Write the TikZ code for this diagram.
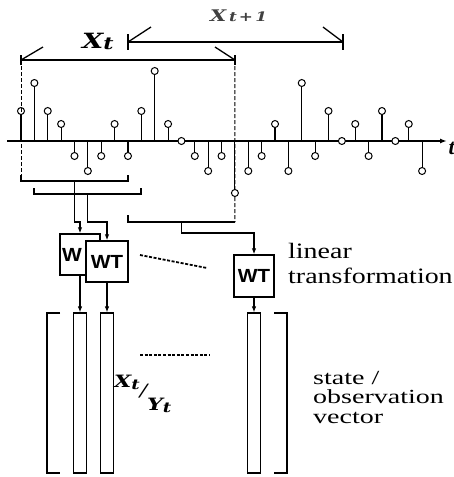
\documentclass[tikz,border=0pt]{standalone}
\usepackage{fontspec}
\setmainfont{Liberation Serif}
\usepackage{tikz}
\usetikzlibrary{arrows.meta,positioning}
\newfontfamily\labelfont[FakeStretch=1.27]{Liberation Serif}
\newfontfamily\statefont[FakeStretch=1.4]{Liberation Serif}
\newfontfamily\vecfont[FakeStretch=1.3]{DejaVu Serif}
\newfontfamily\boxfont[FakeStretch=1.1]{Liberation Sans}
\tikzset{
  sample/.style={
    circle,
    draw,
    fill=white,
    line width=1pt,
    inner sep=0pt,
    minimum size=7pt
  },
  stem/.style={
    line width=1.1pt
  },
  tbox/.style={
    draw,
    fill=white,
    line width=1.3pt,
    minimum width=40pt,
    minimum height=41pt,
    inner sep=0pt,
    font=\boxfont\bfseries\fontsize{19}{19}\selectfont
  },
  column/.style={
    draw,
    line width=1.2pt,
    minimum width=13pt,
    minimum height=160pt,
    inner sep=0pt
  },
  brack/.style={
    line width=1.3pt
  },
  feed/.style={
    -{Latex[length=6pt,width=4.5pt]},
    line width=1.2pt
  },
  dots/.style={
    line width=1.8pt,
    dash pattern=on 3pt off 1.6pt
  },
  window/.style={
    line width=1pt,
    dash pattern=on 4pt off 2pt
  }
}
\begin{document}
\begin{tikzpicture}[x=1pt, y=-1pt]
\useasboundingbox (0,0) rectangle (454,477);
% time axis
\coordinate (t0) at (7,141);
\coordinate (tend) at (447,141);
\draw[line width=1.8pt, -{Latex[length=7pt,width=5pt]}] (t0) -- (tend);
\node[anchor=west, font=\bfseries\itshape\fontsize{22}{22}\selectfont] (tlab) at (445,148) {t};
% samples
\foreach \v [count=\i from 0] in {30,58,30,17,-15,-30,-15,17,-15,30,70,17,0,-15,-30,-15,-52,-30,-15,17,-30,58,-15,30,0,17,-15,30,0,17,-30}{
  \coordinate (a\i) at (21+13.37*\i, 141);
  \coordinate (p\i) at (21+13.37*\i, {141-(\v)});
  \draw[stem] (a\i) -- (p\i);
  \node[sample] (s\i) at (p\i) {};
}
% window X_t
\coordinate (wl) at (21,60);
\coordinate (wr) at (235,60);
\draw[brack] (wl) -- (wr);
\draw[brack] (wl) ++(0,-5) -- ++(0,10);
\draw[brack] (wr) ++(0,-5) -- ++(0,10);
\draw[brack] (wl) -- ++(22,-13);
\draw[brack] (wr) -- ++(-20,-13);
\node[anchor=base west, inner sep=0pt, font=\vecfont\bfseries\itshape\fontsize{21}{21}\selectfont] (xt) at (82,48) {X\raisebox{-1pt}{\fontsize{17}{17}\selectfont t}};
% window X_t+1
\coordinate (vl) at (128,42);
\coordinate (vr) at (343,42);
\draw[brack] (vl) -- (vr);
\draw[brack] (vl) ++(0,-8) -- ++(0,16);
\draw[brack] (vr) ++(0,-8) -- ++(0,16);
\draw[brack] (vl) -- ++(23,-15);
\draw[brack] (vr) -- ++(-20,-15);
\node[anchor=base west, inner sep=0pt, text=black!75, font=\vecfont\bfseries\itshape\fontsize{16}{16}\selectfont] (xt1) at (210,21) {X\,{\fontsize{13}{13}\selectfont t\,+\,1}};
% groups of samples
\coordinate (g1l) at (21,181);
\coordinate (g1r) at (128,181);
\coordinate (g1c) at (74.5,181);
\coordinate (g2l) at (34,194);
\coordinate (g2r) at (141,194);
\coordinate (g2c) at (87.5,194);
\coordinate (g3l) at (128,222);
\coordinate (g3r) at (235,222);
\coordinate (g3c) at (181.5,222);
\draw[window] (wl) -- (g1l);
\draw[window] (wr) -- (s16);
\draw[window] (s16) -- (g3r);
\draw[brack] (g1l) ++(0,-6) -- (g1l) -- (g1r) -- ++(0,-6);
\draw[brack] (g2l) ++(0,-6) -- (g2l) -- (g2r) -- ++(0,-6);
\draw[brack] (g3l) ++(0,-7) -- (g3l) -- (g3r);
% transforms
\node[tbox, text width=36pt, align=left, inner xsep=2pt] (wbox) at (80,254.5) {W};
\node[tbox, minimum width=42pt] (wt1) at (107,261.5) {WT};
\node[tbox, minimum height=42pt] (wt2) at (254,276) {WT};
\draw[feed] (g1c) -- ++(0,41) -| (wbox.north);
\draw[feed] (g2c) -- ++(0,28) -| (wt1.north);
\draw[feed] (g3c) -- ++(0,11) -| (wt2.north);
\coordinate (d1a) at (140,255);
\coordinate (d1b) at (207,268);
\draw[dots] (d1a) -- (d1b);
\node[anchor=base west, align=left, inner sep=0pt, font=\labelfont\fontsize{22}{25}\selectfont] (lintext) at (288,283) {linear\\transformation};
% state / observation vectors
\node[column] (c1) at (80,393) {};
\node[column] (c2) at (107,393) {};
\node[column] (c3) at (254,393) {};
\draw[feed] (wbox) -- (c1);
\draw[feed] (wt1) -- (c2);
\draw[feed] (wt2) -- (c3);
\coordinate (bl) at (47,313);
\coordinate (br) at (287,313);
\draw[brack] (bl) ++(13,0) -- (bl) -- ++(0,160) -- ++(13,0);
\draw[brack] (br) ++(-13,0) -- (br) -- ++(0,160) -- ++(-13,0);
\coordinate (d2a) at (140,355);
\coordinate (d2b) at (210,355);
\draw[dots] (d2a) -- (d2b);
\node[anchor=base west, inner sep=0pt, font=\vecfont\bfseries\itshape\fontsize{17}{17}\selectfont] (xyt) at (114,387) {X{\fontsize{14}{14}\selectfont\raisebox{-2pt}{t}}\raisebox{-9pt}{\mdseries /}\raisebox{-23pt}{Y{\fontsize{14}{14}\selectfont\raisebox{-2pt}{t}}}};
\node[anchor=base west, align=left, inner sep=0pt, font=\statefont\fontsize{20}{19.5}\selectfont] (vectext) at (313,423) {state /\\observation\\vector};
\end{tikzpicture}
\end{document}
